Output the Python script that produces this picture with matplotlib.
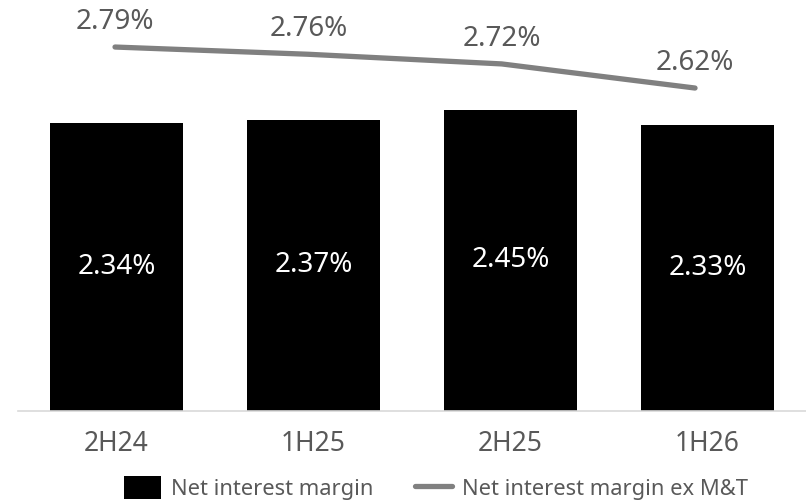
import matplotlib.pyplot as plt
from matplotlib.patches import Patch
from matplotlib.lines import Line2D

plt.rcParams['font.family'] = ['Noto Sans', 'DejaVu Sans']

periods = ["2H24", "1H25", "2H25", "1H26"]
nim = [2.34, 2.37, 2.45, 2.33]
nim_ex_mt = [2.79, 2.76, 2.72, 2.62]

text_grey = "#595959"
line_grey = "#808080"

fig = plt.figure(figsize=(8.06, 5.04), dpi=100)
ax = fig.add_axes([0.0223, 0.1845, 0.9777, 0.8155])
ax2 = fig.add_axes([0.0223, 0.1845, 0.9777, 0.8155])
ax2.patch.set_visible(False)

x = range(len(periods))
bars = ax.bar(x, nim, width=0.675, color="black", zorder=2)
for b, v in zip(bars, nim):
    ax.text(b.get_x() + b.get_width() / 2, v / 2, f"{v:.2f}%", ha="center", va="center",
            color="white", fontsize=20)

ax.set_xlim(-0.5, 3.5)
ax.set_ylim(0, 3.344)
ax.set_xticks(list(x))
ax.set_xticklabels(periods, fontsize=19, color=text_grey)
ax.tick_params(axis="x", length=0, pad=14)
ax.set_yticks([])
for s in ["top", "right", "left"]:
    ax.spines[s].set_visible(False)
ax.spines["bottom"].set_color("#d9d9d9")
ax.spines["bottom"].set_linewidth(1.2)

ax2.plot(x, nim_ex_mt, color=line_grey, linewidth=3.8, solid_capstyle="round", solid_joinstyle="round")
for xi, v in zip(x, nim_ex_mt):
    ax2.annotate(f"{v:.2f}%", (xi, v), xytext=(0, 18), textcoords="offset points",
                 ha="center", va="center", color=text_grey, fontsize=20)
ax2.set_xlim(-0.502, 3.574)
ax2.set_ylim(1.281, 2.985)
ax2.axis("off")

handles = [Patch(facecolor="black", label="Net interest margin"),
           Line2D([0], [0], color=line_grey, linewidth=3.8, solid_capstyle="round",
                  label="Net interest margin ex M&T")]
fig.legend(handles=handles, loc="center", bbox_to_anchor=(436 / 806, 1 - 488 / 504), ncol=2,
           frameon=False, fontsize=15.8, labelcolor=text_grey, handlelength=1.7, handleheight=1.26,
           handletextpad=0.45, columnspacing=1.9, borderpad=0)

fig.savefig("out.png", dpi=100)
